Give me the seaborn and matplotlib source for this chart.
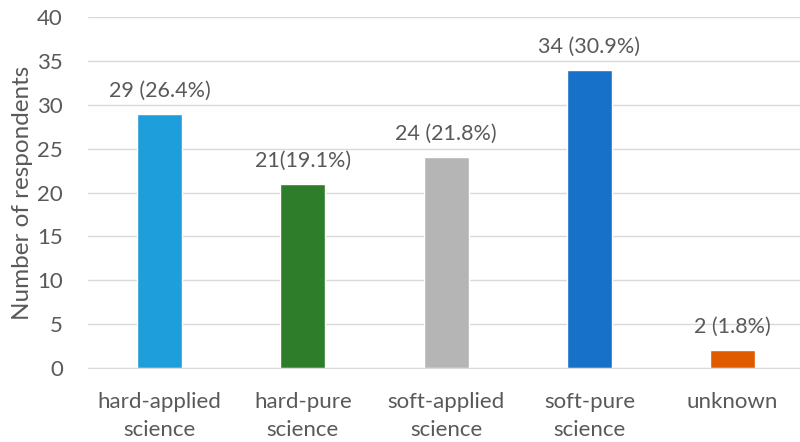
import pandas as pd
import matplotlib.pyplot as plt
import seaborn as sns

categories = ["hard-applied\nscience", "hard-pure\nscience", "soft-applied\nscience",
              "soft-pure\nscience", "unknown"]
counts = [29, 21, 24, 34, 2]
bar_labels = ["29 (26.4%)", "21(19.1%)", "24 (21.8%)", "34 (30.9%)", "2 (1.8%)"]
colors = ["#1E9FDC", "#2E7D2B", "#B5B5B5", "#1771C8", "#E05A00"]

sns.set_style("white")
plt.rcParams['font.family'] = ['Lato', 'DejaVu Sans']
text_color = "#595959"

df = pd.DataFrame({"category": categories, "count": counts})

fig = plt.figure(figsize=(8, 4.42), dpi=100)
ax = fig.add_axes([0.11, 0.1674, 0.89, 0.7941])

sns.barplot(data=df, x="category", y="count", hue="category", palette=colors,
            legend=False, width=0.314, saturation=1, ax=ax)

for i, (v, lab) in enumerate(zip(counts, bar_labels)):
    ax.text(i, v + 1.5, lab, ha="center", va="bottom", fontsize=15.5, color=text_color)

ax.set_ylim(0, 40)
ax.set_xlim(-0.5, 4.47)
ax.set_yticks(range(0, 41, 5))
ax.set_xticks(range(len(categories)))
ax.set_xticklabels(categories, linespacing=1.5, va="top")
ax.grid(axis="y", color="#D9D9D9", linewidth=1)
ax.set_axisbelow(True)
for s in ["top", "right", "left"]:
    ax.spines[s].set_visible(False)
ax.spines["bottom"].set_color("#D9D9D9")
ax.tick_params(axis="both", length=0, labelsize=16, colors=text_color)
ax.tick_params(axis="x", pad=17)
ax.tick_params(axis="y", pad=18)
ax.set_xlabel("")
ax.set_ylabel("Number of respondents", fontsize=17.5, color=text_color, labelpad=3)

fig.savefig("out.png", dpi=100)
